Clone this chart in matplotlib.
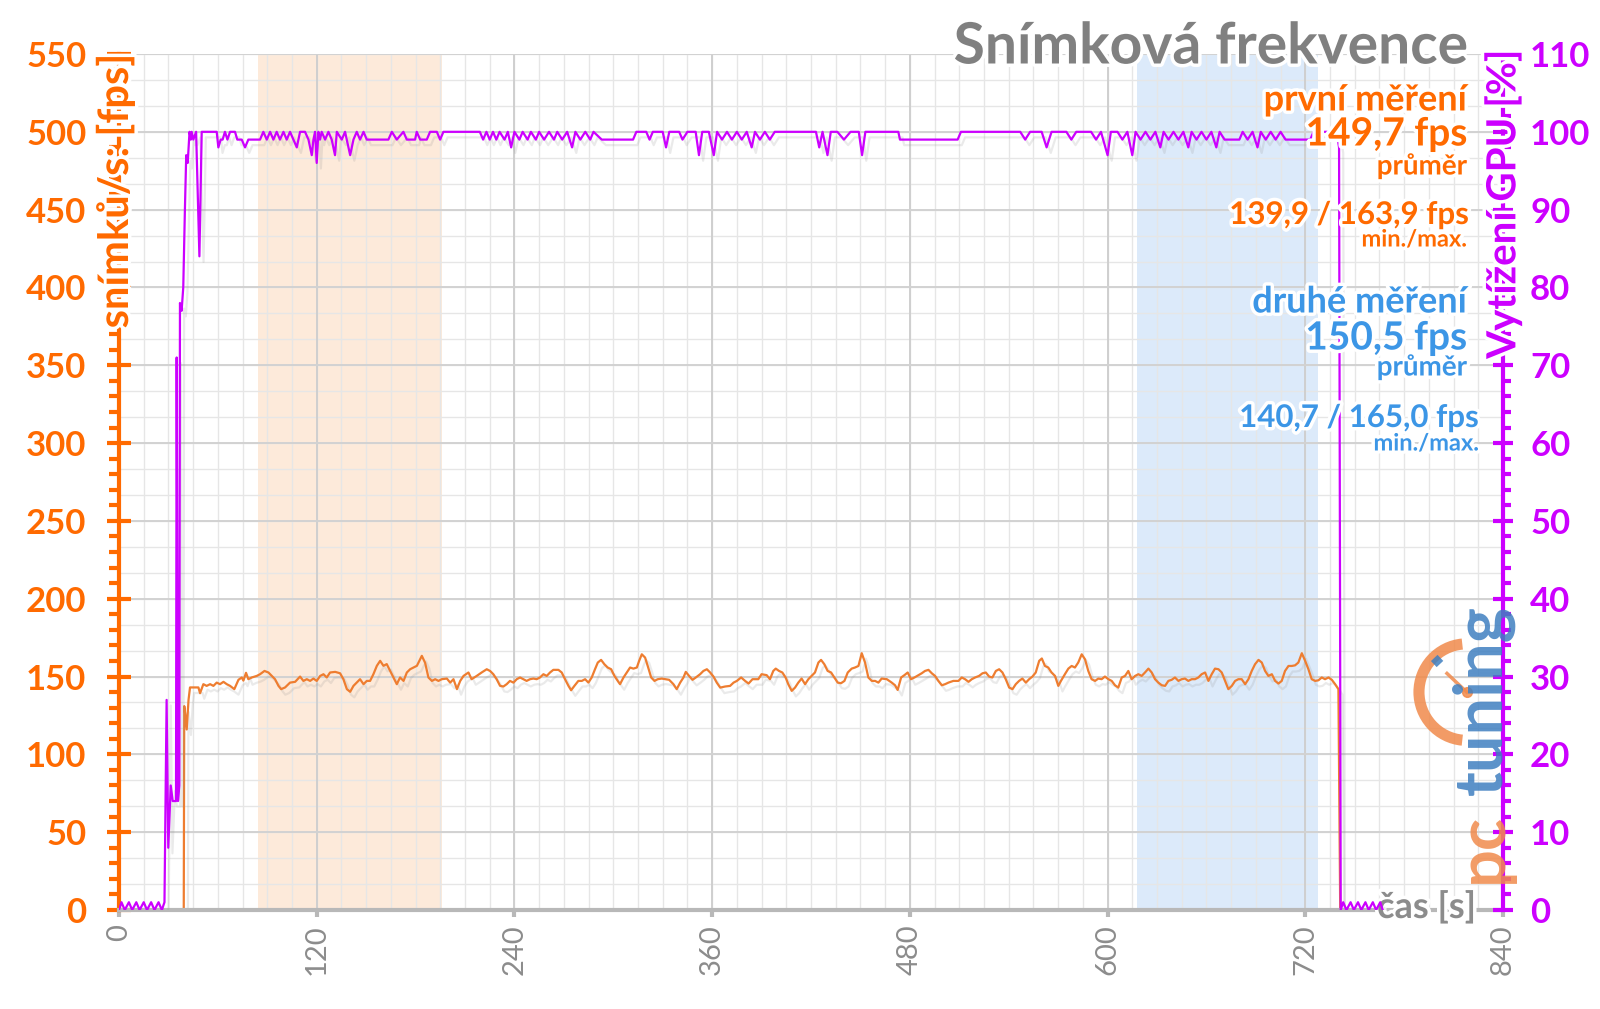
import matplotlib
matplotlib.use("Agg")
import matplotlib.pyplot as plt
import matplotlib.patheffects as pe
from matplotlib.patches import Arc
from matplotlib.transforms import offset_copy
import numpy as np

plt.rcParams['font.family'] = ['Lato', 'DejaVu Sans']

# ---------------- data (time [s], value) ----------------
fps_series = [
    (0, 0), (39.3, 0), (39.6, 131), (40.2, 126), (41.1, 116), (42.2, 135), (43.1, 143),
    (48.2, 143), (49.2, 139.3), (51.2, 145.1), (53.2, 144.0), (55.3, 145.1), (57.3, 144.0), (59.3, 146.1),
    (61.3, 145.1), (63.4, 146.6), (65.4, 145.1), (67.4, 144.0), (70.0, 141.9), (72.5, 147.9), (74.5, 149.4),
    (75.5, 147.4), (77.1, 152.4), (78.5, 148.3), (80.6, 149.4), (83.6, 150.4), (85.6, 151.5), (88.3, 153.6),
    (90.7, 152.6), (92.7, 150.4), (94.7, 148.3), (96.8, 144.0), (98.4, 141.9), (100.8, 143.0), (103.8, 146.1),
    (106.9, 146.6), (109.9, 150.0), (111.9, 147.2), (114.0, 148.3), (116.0, 147.2), (118.0, 148.7),
    (120.0, 147.2), (122.1, 150.4), (124.1, 151.5), (126.1, 149.4), (128.1, 152.6), (131.2, 153.0),
    (134.2, 152.1), (136.2, 148.3), (138.3, 141.9), (140.3, 140.2), (142.3, 144.0), (144.3, 146.1),
    (146.3, 148.3), (148.4, 145.1), (150.4, 147.2), (152.4, 147.2), (154.4, 151.5), (156.5, 156.9),
    (158.5, 160.1), (160.5, 156.9), (162.5, 158.0), (164.6, 153.6), (166.6, 149.4), (168.6, 145.1),
    (170.6, 149.4), (172.7, 147.2), (174.7, 152.6), (176.7, 154.7), (178.7, 155.8), (180.8, 156.9),
    (183.8, 163.3), (185.8, 158.8), (187.8, 149.4), (189.9, 147.2), (191.9, 148.3), (193.9, 147.2),
    (195.9, 148.3), (199.0, 148.7), (201.0, 146.1), (203.0, 148.3), (205.1, 141.9), (207.1, 147.2),
    (209.1, 150.4), (212.1, 152.6),
    (214.0, 148.3), (217.1, 150.4), (220.1, 152.6), (223.2, 154.7), (225.2, 153.6), (227.2, 151.5),
    (229.2, 148.3), (231.3, 144.0), (233.3, 143.6), (235.3, 145.1), (237.3, 147.2), (239.4, 146.1),
    (241.4, 148.3), (243.4, 149.4), (245.4, 148.3), (247.4, 147.2), (249.5, 148.3), (251.5, 148.7),
    (253.5, 148.3), (255.5, 149.4), (257.6, 151.5), (259.6, 150.4), (261.6, 152.6), (263.6, 154.3),
    (266.7, 154.3), (268.7, 152.6), (270.7, 148.3), (272.8, 144.0), (274.4, 141.2), (276.4, 144.0),
    (278.8, 147.2), (280.9, 147.2), (282.9, 148.3), (284.9, 146.1), (286.9, 149.4), (288.9, 154.7),
    (290.6, 159.0), (292.6, 160.7), (294.6, 157.9), (296.6, 155.8), (298.7, 154.7), (300.7, 150.4),
    (302.7, 147.2), (304.1, 145.1), (306.2, 149.4), (308.2, 152.6), (310.2, 155.8), (312.2, 155.1),
    (314.3, 155.8), (315.7, 160.1), (317.3, 164.3), (319.3, 162.2), (320.9, 156.8), (323.0, 149.4),
    (325.0, 147.2), (327.0, 148.3), (329.4, 148.7), (331.5, 148.3), (333.9, 147.9), (336.5, 145.1),
    (338.5, 141.9), (340.6, 146.1), (342.6, 149.4), (344.0, 153.0), (346.0, 150.4), (348.1, 147.9),
    (350.1, 149.4), (352.7, 151.5), (354.7, 153.6), (356.8, 154.7), (358.8, 152.6), (360.8, 150.0),
    (362.8, 146.1), (364.9, 142.9), (367.9, 143.6), (370.9, 144.0), (373.0, 146.1), (375.0, 147.2),
    (377.6, 149.4), (380.0, 147.2), (382.1, 145.5), (384.5, 148.3),
    (388.0, 148.3), (390.0, 151.5), (393.1, 150.9), (395.1, 148.3), (397.1, 153.6), (398.6, 155.1),
    (400.6, 153.6), (402.6, 152.6), (404.6, 149.4), (406.2, 145.1), (408.3, 140.8), (410.3, 142.9),
    (412.3, 146.1), (414.3, 148.7), (416.4, 145.1), (418.4, 148.3), (420.4, 150.4), (422.4, 152.6),
    (424.5, 159.0), (426.1, 160.7), (428.1, 157.9), (430.1, 153.6), (432.2, 152.6), (434.2, 149.4),
    (436.2, 146.1), (438.2, 145.7), (440.3, 147.2), (442.3, 152.6), (444.7, 155.1), (446.7, 155.8),
    (448.8, 156.8), (450.8, 165.0), (452.8, 159.0), (454.8, 149.4), (456.9, 147.2), (458.9, 147.2),
    (460.9, 146.1), (462.9, 148.7), (466.0, 148.3), (469.0, 146.1), (471.0, 144.4), (472.6, 141.4),
    (474.7, 149.4), (476.7, 150.9), (478.7, 152.6), (480.7, 148.3), (482.8, 149.4), (485.2, 150.9),
    (487.2, 152.1), (489.2, 153.6), (491.3, 154.3), (493.3, 152.1), (495.3, 150.4), (497.3, 147.2),
    (499.4, 144.4), (501.4, 145.1), (503.4, 146.1), (506.4, 147.2), (509.5, 147.2), (511.5, 149.4),
    (513.5, 148.3), (515.6, 146.6), (517.6, 148.3), (519.6, 149.4), (522.0, 150.4), (524.1, 152.1),
    (526.1, 152.6), (528.1, 150.0), (530.1, 149.4), (532.2, 153.6), (534.2, 154.7), (536.2, 152.6),
    (538.2, 148.3), (540.3, 142.9), (542.3, 141.9), (544.3, 145.1), (546.3, 147.2), (548.3, 148.7),
    (550.4, 146.1), (552.4, 148.3), (554.4, 150.0), (556.4, 152.6), (558.5, 160.1), (560.1, 161.6),
    (562.0, 156.8), (564.0, 155.8), (566.0, 152.6), (568.1, 150.4), (570.1, 144.0), (571.7, 147.2),
    (574.1, 151.5), (576.2, 155.1), (578.2, 156.8), (580.2, 155.8), (582.2, 159.0), (584.3, 164.3),
    (586.3, 161.1), (588.3, 153.6), (590.3, 148.3), (592.4, 147.2), (594.4, 148.7), (596.4, 148.3),
    (598.4, 150.0), (600.5, 148.3), (602.5, 147.2), (604.5, 144.4), (606.5, 142.9), (608.6, 149.4),
    (610.6, 150.4), (612.6, 153.6), (614.6, 148.3), (616.7, 150.4), (618.7, 151.5), (620.7, 150.4),
    (622.7, 152.6), (624.8, 155.1), (626.8, 152.6), (628.8, 148.3), (630.8, 146.1), (632.9, 144.4),
    (634.9, 144.0), (636.9, 147.2), (638.9, 147.9), (640.9, 149.4), (643.0, 147.2), (645.0, 148.3),
    (647.0, 148.7), (649.0, 147.2), (651.1, 148.3), (653.1, 148.3), (655.1, 149.4), (657.1, 151.5),
    (659.2, 152.6), (661.2, 147.2), (663.2, 151.5), (665.2, 155.1), (667.3, 154.7), (669.3, 152.6),
    (671.3, 147.2), (673.3, 141.9), (675.4, 144.0), (677.4, 147.2), (679.4, 148.3), (681.4, 148.3),
    (683.5, 145.1), (685.5, 148.3), (687.5, 153.6), (689.5, 157.9), (691.6, 160.7), (693.6, 159.0),
    (695.6, 153.6), (697.6, 150.4), (699.7, 151.5), (701.7, 147.2), (703.7, 145.5), (705.7, 147.2),
    (707.7, 153.6), (709.8, 156.8), (711.8, 156.8), (713.8, 157.2), (715.8, 159.0), (717.9, 165.0),
    (719.9, 160.1), (721.9, 154.7), (723.9, 148.3), (726.0, 147.2), (728.0, 147.6), (730.0, 149.4),
    (732.0, 148.3), (734.1, 149.4), (736.1, 147.9), (738.1, 145.1), (740.1, 141.9), (741.2, 0), (767.0, 0),
]

gpu_series = [
    (0, 0), (1.5, 1), (3.5, 0), (6, 1), (8, 0), (10.5, 1), (12.5, 0), (15, 1), (17, 0), (19.5, 1), (21.5, 0),
    (24, 1), (26, 0), (27.6, 1), (28.9, 27), (29.9, 8), (31.4, 16), (32.6, 14), (34.6, 14), (35.0, 71),
    (35.8, 14), (36.6, 16), (37.0, 78), (38.0, 77), (39.0, 80), (40.0, 90), (40.8, 97), (41.7, 96),
    (42.8, 100), (43.6, 99), (44.1, 100), (45.1, 99), (46.8, 100), (48.8, 84), (50.2, 100),
    (59.3, 100), (60.3, 98), (61.7, 99), (62.9, 99), (64.3, 100), (65.8, 99), (67.4, 100), (70.4, 100),
    (71.8, 99), (74.5, 99), (76.5, 98), (78.5, 99), (85.6, 99), (87.6, 100), (89.7, 99), (91.7, 100),
    (93.7, 99), (95.7, 100), (97.7, 99), (99.8, 100), (101.8, 99), (103.8, 100), (107.9, 98), (109.9, 100),
    (112.9, 100), (115.0, 99), (117.0, 97), (118.0, 99), (119.0, 100), (120.0, 96), (121.0, 100),
    (122.0, 99), (123.0, 100), (125.1, 99), (127.1, 100), (129.1, 99), (131.1, 97), (132.2, 100),
    (135.2, 99), (137.2, 100), (140.3, 97), (142.3, 99), (144.3, 100), (146.3, 99), (148.4, 100),
    (150.4, 99), (163.5, 99), (165.6, 100), (168.6, 99), (172.6, 100), (174.7, 99), (179.7, 99),
    (180.7, 100), (182.8, 99), (186.8, 99), (188.8, 100), (192.9, 100), (194.9, 99), (196.9, 100),
    (219, 100), (221, 99), (223, 100), (225, 99), (227, 100), (229, 99), (231, 100), (234, 99), (236, 100),
    (238, 98), (240, 100), (243, 99), (245, 100), (248, 99), (250, 100), (253, 99), (255, 100), (258, 99),
    (261, 100), (264, 99), (266, 100), (269, 99), (272, 100), (275, 98), (277, 100), (280, 99), (283, 100),
    (286, 99), (288, 100), (293, 99), (312, 99), (314, 100), (320, 100), (322, 99), (324, 100), (330, 100),
    (332, 98), (334, 100), (340, 100), (342, 99), (345, 100), (350, 100), (352, 97), (354, 100), (358, 100),
    (361, 97), (363, 100), (366, 99), (369, 100), (372, 99), (375, 100), (378, 99), (381, 100), (384, 98),
    (386, 100), (389, 99), (392, 100), (395, 99), (398, 100), (423, 100), (425, 98), (427, 100), (430, 97),
    (432, 100), (436, 100), (440, 99), (444, 100), (449, 100), (451, 97), (453, 100), (473, 100), (474, 99),
    (509, 99), (511, 100), (547, 100), (550, 99), (553, 100), (560, 100), (563, 98), (566, 100), (575, 100),
    (578, 99), (581, 100), (590, 100), (593, 99), (596, 100), (600, 97), (602, 100), (606, 100), (609, 99),
    (612, 100), (615, 97), (617, 100), (620, 99), (623, 100), (626, 99), (629, 100), (632, 98), (634, 100),
    (637, 99), (640, 100), (643, 99), (646, 100), (649, 98), (651, 100), (654, 99), (657, 100), (660, 99),
    (663, 100), (666, 98), (668, 100), (671, 99), (680, 99), (682, 100), (685, 99), (688, 100), (691, 98),
    (693, 100), (696, 99), (699, 100), (702, 99), (705, 100), (708, 99), (711, 99), (723, 99), (725, 100),
    (739, 100), (740.5, 98), (741.5, 0), (743, 1), (745, 0), (747.5, 1), (749.5, 0), (752, 1), (754, 0),
    (756.5, 1), (758.5, 0), (761, 1), (763, 0), (765.5, 1), (767, 0),
]

x_ticks = [0, 120, 240, 360, 480, 600, 720, 840]
fps_ticks = [0, 50, 100, 150, 200, 250, 300, 350, 400, 450, 500, 550]
gpu_ticks = [0, 10, 20, 30, 40, 50, 60, 70, 80, 90, 100, 110]
band1 = (84.5, 196.0)
band2 = (618.0, 728.0)

fps_t, fps_v = zip(*fps_series)
gpu_t, gpu_v = zip(*gpu_series)

# ---------------- style ----------------
ORANGE_AX = '#FF6A00'
ORANGE_LN = '#EE7D30'
PURPLE = '#CC00FF'
BLUE = '#3C96E6'
GRAY_T = '#8C8C8C'

fig = plt.figure(figsize=(16, 10.09), dpi=100)
ax = fig.add_axes([119/1600, 1-910/1009, (1503-119)/1600, (910-54)/1009])
ax.set_xlim(0, 840)
ax.set_ylim(0, 550)
ax2 = ax.twinx()
ax2.set_ylim(0, 110)

# bands
ax.axvspan(*band1, color='#FDEADA', zorder=0, lw=0)
ax.axvspan(*band2, color='#DCEAFA', zorder=0, lw=0)

# grid
for xv in np.arange(0, 841, 15):
    ax.axvline(xv, color='#E6E6E6', lw=1.0, zorder=0.5)
for yv in np.arange(0, 551, 50/3):
    ax.axhline(yv, color='#E6E6E6', lw=1.0, zorder=0.5)
for xv in x_ticks:
    ax.axvline(xv, color='#CFCFCF', lw=1.4, zorder=0.6)
for yv in fps_ticks:
    ax.axhline(yv, color='#D2D2D2', lw=1.4, zorder=0.6)

shadow = [pe.SimpleLineShadow(offset=(3, -4), shadow_color='#909090', alpha=0.18), pe.Normal()]
ax.plot(fps_t, fps_v, color=ORANGE_LN, lw=1.6, zorder=3, path_effects=shadow)
ax2.plot(gpu_t, gpu_v, color=PURPLE, lw=1.6, zorder=3, path_effects=shadow)

# spines
for s in ['top', 'right']:
    ax.spines[s].set_visible(False)
ax.spines['left'].set_color(ORANGE_AX)
ax.spines['left'].set_linewidth(3)
ax.spines['bottom'].set_color('#B8B8B8')
ax.spines['bottom'].set_linewidth(3)
ax.spines['bottom'].set_zorder(4)
for s in ['top', 'left', 'bottom']:
    ax2.spines[s].set_visible(False)
ax2.spines['right'].set_color(PURPLE)
ax2.spines['right'].set_linewidth(3)

# ticks
ax.set_xticks(x_ticks)
ax.set_xticklabels([str(v) for v in x_ticks], rotation=90, color=GRAY_T, fontsize=21)
ax.tick_params(axis='x', direction='out', length=5, width=3, color='#B8B8B8', pad=5)
ax.set_yticks(fps_ticks)
ax.set_yticklabels([str(v) for v in fps_ticks], color=ORANGE_AX, fontsize=25, fontweight='bold')
ax.set_yticks(np.arange(0, 551, 10), minor=True)
ax.tick_params(axis='y', which='major', direction='inout', length=17, width=3, color=ORANGE_AX, pad=15)
ax.tick_params(axis='y', which='minor', direction='out', length=7, width=3, color=ORANGE_AX)
ax2.set_yticks(gpu_ticks)
ax2.set_yticklabels([str(v) for v in gpu_ticks], color=PURPLE, fontsize=25, fontweight='bold')
ax2.set_yticks(np.arange(0, 111, 2), minor=True)
ax2.tick_params(axis='y', which='major', direction='inout', length=15, width=3, color=PURPLE, pad=12)
ax2.tick_params(axis='y', which='minor', direction='out', length=6, width=3, color=PURPLE)

glow = [pe.withStroke(linewidth=5, foreground='white')]

# axis labels on spines
lt = offset_copy(ax.transAxes, fig=fig, x=-4, y=0, units='dots')
ax.text(0, 1.0, 'snímků/s: [fps]', transform=lt, rotation=90, ha='center', va='top',
        color=ORANGE_AX, fontsize=30, fontweight='bold', path_effects=glow, zorder=6)
ax2.text(1, 1.005, 'Vytížení GPU [%]', transform=ax2.transAxes, rotation=90, ha='center', va='top',
         color=PURPLE, fontsize=29, fontweight='bold', path_effects=glow, zorder=6)
ax.text(1476/1600, 1-907/1009, 'čas [s]', transform=fig.transFigure, ha='right', va='center',
        color=GRAY_T, fontsize=26, fontweight='bold', path_effects=glow, zorder=6)

# title and annotations
def ftxt(x, y, s, size, color, weight='bold'):
    fig.text(x/1600, 1-y/1009, s, ha='right', va='center', fontsize=size, color=color,
             fontweight=weight, path_effects=glow, zorder=10)

ftxt(1469, 47, 'Snímková frekvence', 41, '#808080')
ftxt(1467, 100, 'první měření', 26, ORANGE_AX)
ftxt(1467, 134, '149,7 fps', 28, ORANGE_AX)
ftxt(1467, 166, 'průměr', 20, ORANGE_AX)
ftxt(1469, 215, '139,9 / 163,9 fps', 22.5, ORANGE_AX)
ftxt(1467, 239, 'min./max.', 17, ORANGE_AX)
ftxt(1467, 302, 'druhé měření', 26, BLUE)
ftxt(1467, 338, '150,5 fps', 28, BLUE)
ftxt(1467, 367, 'průměr', 20, BLUE)
ftxt(1479, 418, '140,7 / 165,0 fps', 22.5, BLUE)
ftxt(1479, 443, 'min./max.', 17, BLUE)

# logo
fig.text(1483/1600, 1-700/1009, 'tuning', rotation=90, ha='center', va='center', fontsize=48,
         color='#3F7FC0', fontweight='bold', alpha=0.85, zorder=9)
fig.text(1483/1600, 1-848/1009, 'pc', rotation=90, ha='center', va='center', fontsize=48,
         color='#F08A4B', fontweight='bold', alpha=0.85, zorder=9)
arc = Arc((818, 140), 58, 62, theta1=95, theta2=265, color='#F08A4B', lw=8, alpha=0.85, zorder=8)
ax.add_patch(arc)
ax.plot([806, 818], [152, 140], color='#F08A4B', lw=2.5, alpha=0.85, zorder=8)
ax.plot([818], [140], 'o', color='#F08A4B', ms=7, alpha=0.85, zorder=8)
ax.plot([798, 802], [158, 162], color='#3F7FC0', lw=6, alpha=0.85, zorder=8, solid_capstyle='butt')

fig.savefig('out.png', dpi=100, facecolor='white')
